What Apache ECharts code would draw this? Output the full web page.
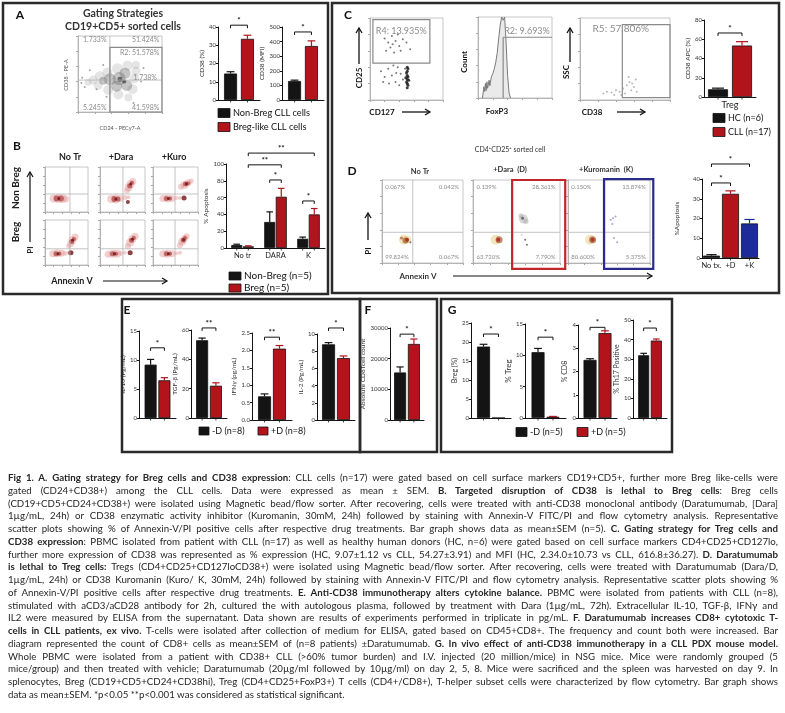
<!DOCTYPE html>
<html>
<head>
<meta charset="utf-8">
<script src="https://cdn.jsdelivr.net/npm/echarts@6/dist/echarts.min.js"></script>
<style>
  html, body { margin: 0; padding: 0; background: #fff; }
  #main { position: absolute; left: 0; top: 0; width: 785px; height: 713px; }
  #caption { position: absolute; left: 8px; top: 471px; width: 770px; font-family: Lato, "Open Sans", sans-serif;
             font-size: 9.7px; line-height: 12.76px; color: #262626; }
  #caption div { white-space: nowrap; }
</style>
</head>
<body>
<div id="main"></div>
<div id="caption"></div>
<script>
// ---- bar chart values (mean, SEM) ----
// A: CD38 on non-Breg vs Breg-like CLL cells
const cd38Pct = [14.5, 33.5], cd38PctErr = [1.0, 2.0];
const cd38Mfi = [130, 370], cd38MfiErr = [6, 35];
// B: % apoptosis
const apoCatsB = ['No tr', 'DARA', 'K'];
const apoNonBreg = [3.5, 31, 11], apoNonBregErr = [1, 12, 2];
const apoBreg = [2, 61, 40], apoBregErr = [0.6, 10, 7];
// C: CD38 APC (%) on Treg
const tregCd38 = [8, 53.5], tregCd38Err = [1.2, 4];
// D: % apoptosis of Treg
const apoCatsD = ['No tx.', '+D', '+K'];
const apoTreg = [1.2, 32.5, 17.5], apoTregErr = [0.5, 1.5, 2];
// E: cytokines (-D, +D)
const il10 = [9.2, 6.5], il10Err = [0.9, 0.45];
const tgfb = [53, 22], tgfbErr = [1.5, 2];
const ifng = [0.68, 2.05], ifngErr = [0.07, 0.09];
const il2 = [8.8, 7.2], il2Err = [0.2, 0.25];
// F: absolute CD8 T cell count
const cd8Count = [15500, 24800], cd8CountErr = [1800, 1600];
// G: PDX mouse model
const bregPct = [18.8, 0], bregPctErr = [0.6, 0];
const tregPct = [10.5, 0.2], tregPctErr = [0.6, 0.05];
const cd8Pct = [2.5, 3.65], cd8PctErr = [0.05, 0.1];
const th17Pct = [32, 39.5], th17PctErr = [1, 0.8];

// ---- flow plots, points as [x%, y%, size, shade] ----
const flowAContour = [
  [12,39,7,0],[18,42,9,0],[26,47,10,0],[35,52,10,0],[47,57,11,0],[59,61,10,0],[69,62,8,0],
  [24,35,9,0],[36,29,10,0],[48,23,10,0],[60,19,8,0],[65,30,10,0],[67,44,10,0],[69,54,9,0],
  [38,43,12,1],[49,44,13,1],[56,51,11,1],[58,35,11,1],[46,34,11,1],[30,41,8,1],
  [50,43,5,2],[55,40,4,2],
  [5,45,2,3],[8,33,2,3],[14,55,2,3],[22,30,2,3],[30,62,2,3],[75,40,2,3],[78,58,2,3],[66,12,2,3],[34,20,2,3],[4,38,2,3]
];
const flowB = [
  // row 1: Non Breg
  [[20,30,8,0],[30,30,9,0],[40,30,9,0],[48,29,7,0],[27,30,6,1],[37,30,6,1],[32,30,3,2]],
  [[25,29,8,0],[35,29,9,0],[45,30,7,0],[55,32,5,0],[63,33,4,0],[32,29,6,1],[40,29,5,1],[35,29,3,2],
   [60,48,6,0],[64,55,8,0],[68,62,8,0],[73,68,7,0],[66,58,5,1],[71,65,4,1],[68,62,3,2],[62,22,4,2]],
  [[22,30,7,0],[32,30,8,0],[42,30,7,0],[30,30,5,1],[38,30,4,1],[34,30,3,2],[52,31,4,0],[60,31,4,0],
   [62,56,6,0],[70,60,8,0],[78,65,7,0],[85,69,5,0],[72,62,5,1],[78,64,4,1],[74,62,3,2],[69,31,5,2]],
  // row 2: Breg
  [[18,25,7,0],[28,26,8,0],[38,26,7,0],[46,26,5,0],[26,25,5,1],[34,25,4,1],[30,25,3,2],[55,27,4,0],[63,27,4,0],
   [55,42,5,0],[60,48,7,0],[64,55,8,0],[70,62,7,0],[62,52,5,1],[67,58,4,1],[64,55,3,2],[60,27,5,2]],
  [[18,24,7,0],[28,25,8,0],[38,25,8,0],[46,26,5,0],[28,25,5,1],[36,25,4,1],[32,25,3,2],[55,27,4,0],
   [62,42,6,0],[67,50,8,0],[72,58,8,0],[78,64,7,0],[70,55,5,1],[75,60,4,1],[72,57,3,2],[67,27,5,2]],
  [[22,25,7,0],[32,25,8,0],[42,25,7,0],[30,25,5,1],[38,25,4,1],[34,25,3,2],[52,26,4,0],[60,27,4,0],
   [60,44,6,0],[65,52,8,0],[70,59,7,0],[75,64,6,0],[67,55,5,1],[71,60,4,1],[68,56,3,2]]
];
const flowBGateX = [58, 51, 49];
const flowBGateY = [40, 36];
const flowCD25Dots = [
  [20,75],[25,70],[30,78],[35,72],[40,66],[45,74],[28,64],[38,80],[50,70],[22,60],[33,58],[42,60],[55,62],[31,68],
  [15,35],[20,28],[25,38],[30,30],[35,22],[38,40],[42,32],[45,25],[48,38],[26,20],[32,42],[18,22],[40,18],[36,33],
  [51,15],[51,20],[51,25],[51,30],[51,35],[51,40],[52,18],[52,28],[50,22],[50,33],[52,38],[53,24],[49,27]
];
const foxp3Hist = [[6,0],[8,14],[9,8],[10,18],[11,9],[12,20],[13,12],[15,22],[16,15],[18,26],[20,30],[22,36],
  [24,44],[26,56],[28,74],[30,90],[32,100],[34,96],[36,100],[38,68],[40,28],[42,6],[44,0]];
const flowSscDots = [[26,8],[30,10],[35,9],[40,12],[44,10],[48,14],[50,8],[52,18],[55,22],[57,12],[60,16],
  [62,25],[54,28],[58,20],[46,6],[38,6],[63,10]];
const flowD = [
  [[27,28,10,0],[31,28,8,0],[29,27,6,1],[31,28,4,2],[24,30,3,1],[35,25,2,4]],
  [[26,28,10,0],[30,28,7,1],[29,28,4,2],[58,53,9,3],[55,57,5,3],[61,50,5,3],[57,54,3,4],[60,28,2,4],[62,22,2,4],[56,34,2,3]],
  [[27,28,10,0],[30,28,7,1],[30,28,4,2],[55,54,2,5],[58,56,2,5],[52,52,2,5],[56,30,2,5],[60,25,2,5],[54,47,2,5]]
];
const flowDPct = [
  ['0.067%', '0.042%', '99.824%', '0.067%'],
  ['0.139%', '28.361%', '63.720%', '7.790%'],
  ['0.150%', '13.874%', '80.600%', '5.375%']
];

const captionLines = [
  '<b>Fig 1. A. Gating strategy for Breg cells and CD38 expression</b>: CLL cells (n=17) were gated based on cell surface markers CD19+CD5+, further more Breg like-cells were',
  'gated (CD24+CD38+) among the CLL cells. Data were expressed as mean ± SEM. <b>B. Targeted disruption of CD38 is lethal to Breg cells</b>: Breg cells',
  '(CD19+CD5+CD24+CD38+) were isolated using Magnetic bead/flow sorter. After recovering, cells were treated with anti-CD38 monoclonal antibody (Daratumumab, [Dara]',
  '1µg/mL, 24h) or CD38 enzymatic activity inhibitor (Kuromanin, 30mM, 24h) followed by staining with Annexin-V FITC/PI and flow cytometry analysis. Representative',
  'scatter plots showing % of Annexin-V/PI positive cells after respective drug treatments. Bar graph shows data as mean±SEM (n=5). <b>C. Gating strategy for Treg cells and</b>',
  '<b>CD38 expression</b>: PBMC isolated from patient with CLL (n=17) as well as healthy human donors (HC, n=6) were gated based on cell surface markers CD4+CD25+CD127lo,',
  'further more expression of CD38 was represented as % expression (HC, 9.07±1.12 vs CLL, 54.27±3.91) and MFI (HC, 2.34.0±10.73 vs CLL, 616.8±36.27). <b>D. Daratumumab</b>',
  '<b>is lethal to Treg cells:</b> Tregs (CD4+CD25+CD127loCD38+) were isolated using Magnetic bead/flow sorter. After recovering, cells were treated with Daratumumab (Dara/D,',
  '1µg/mL, 24h) or CD38 Kuromanin (Kuro/ K, 30mM, 24h) followed by staining with Annexin-V FITC/PI and flow cytometry analysis. Representative scatter plots showing %',
  'of Annexin-V/PI positive cells after respective drug treatments. <b>E. Anti-CD38 immunotherapy alters cytokine balance.</b> PBMC were isolated from patients with CLL (n=8),',
  'stimulated with aCD3/aCD28 antibody for 2h, cultured the with autologous plasma, followed by treatment with Dara (1µg/mL, 72h). Extracellular IL-10, TGF-β, IFNγ and',
  'IL2 were measured by ELISA from the supernatant. Data shown are results of experiments performed in triplicate in pg/mL. <b>F. Daratumumab increases CD8+ cytotoxic T-</b>',
  '<b>cells in CLL patients, ex vivo.</b> T-cells were isolated after collection of medium for ELISA, gated based on CD45+CD8+. The frequency and count both were increased. Bar',
  'diagram represented the count of CD8+ cells as mean±SEM of (n=8 patients) ±Daratumumab. <b>G. In vivo effect of anti-CD38 immunotherapy in a CLL PDX mouse model.</b>',
  'Whole PBMC were isolated from a patient with CD38+ CLL (&gt;60% tumor burden) and I.V. injected (20 million/mice) in NSG mice. Mice were randomly grouped (5',
  'mice/group) and then treated with vehicle; Daratumumab (20µg/ml followed by 10µg/ml) on day 2, 5, 8. Mice were sacrificed and the spleen was harvested on day 9. In',
  'splenocytes, Breg (CD19+CD5+CD24+CD38hi), Treg (CD4+CD25+FoxP3+) T cells (CD4+/CD8+), T-helper subset cells were characterized by flow cytometry. Bar graph shows',
  'data as mean±SEM. *p&lt;0.05 **p&lt;0.001 was considered as statistical significant.'
];

const FONT = 'Lato, "Open Sans", sans-serif';
const BLACK = '#141414', RED = '#b3141c', BLUE = '#1c2a9a';

const grids = [], xAxes = [], yAxes = [], series = [], graphic = [];

function addGrid(rect, boxed) {
  grids.push({ left: rect[0], top: rect[1], width: rect[2], height: rect[3],
    show: boxed, borderColor: '#b8b8b8', borderWidth: 0.8 });
  return grids.length - 1;
}

// centre of bar k inside category cat
function barX(api, cat, k, n, bw, gap) {
  const c = api.coord([cat, 0])[0];
  const total = n * bw + (n - 1) * gap * bw;
  return c - total / 2 + k * bw * (1 + gap) + bw / 2;
}

function barChart(o) {
  const gi = addGrid(o.rect, false);
  const ai = xAxes.length;
  xAxes.push({ gridIndex: gi, type: 'category', data: o.cats,
    axisLine: { lineStyle: { color: BLACK, width: 1 } }, axisTick: { show: false },
    axisLabel: { show: !!o.showCats, interval: 0, fontSize: o.catSize || 7.5, color: '#222', margin: 4, fontFamily: FONT } });
  yAxes.push({ gridIndex: gi, type: 'value', min: 0, max: o.max, interval: o.interval,
    name: o.yName, nameLocation: 'middle', nameGap: o.nameGap,
    nameTextStyle: { fontSize: o.nameSize || 6.5, color: '#333', fontFamily: FONT },
    axisLine: { show: true, lineStyle: { color: BLACK, width: 1 } },
    axisTick: { show: true, length: 2, lineStyle: { color: BLACK } },
    axisLabel: { fontSize: 6, color: '#333', margin: 2, fontFamily: FONT, formatter: o.fmt || (v => String(v)) },
    splitLine: { show: false } });
  const n = o.series.length, bw = o.barWidth, gap = o.gap;
  const errData = [], errColor = [];
  o.series.forEach((s, k) => {
    series.push({ type: 'bar', xAxisIndex: ai, yAxisIndex: ai, silent: true, barWidth: bw, barGap: (gap * 100) + '%',
      itemStyle: { borderColor: '#111', borderWidth: 0.8 },
      data: s.data.map((v, i) => ({ value: v, itemStyle: { color: s.colors ? s.colors[i] : s.color } })) });
    s.data.forEach((v, i) => { errData.push([i, v, s.err[i], k]); errColor.push(s.colors ? s.colors[i] : s.color); });
  });
  series.push({ type: 'custom', xAxisIndex: ai, yAxisIndex: ai, silent: true, z: 3, data: errData, encode: { x: 0, y: 1 },
    renderItem: (params, api) => {
      const cat = api.value(0), v = api.value(1), e = api.value(2), k = api.value(3);
      const x = barX(api, cat, k, n, bw, gap);
      const y0 = api.coord([cat, 0])[1], yv = api.coord([cat, v])[1], yt = api.coord([cat, v + e])[1];
      const col = errColor[params.dataIndex], cap = bw * 0.3;
      const kids = [{ type: 'line', shape: { x1: x, y1: y0, x2: x, y2: y0 + 2.5 }, style: { stroke: BLACK, lineWidth: 0.8 } }];
      if (e > 0) {
        kids.push({ type: 'line', shape: { x1: x, y1: yv, x2: x, y2: yt }, style: { stroke: col, lineWidth: 1.2 } });
        kids.push({ type: 'line', shape: { x1: x - cap, y1: yt, x2: x + cap, y2: yt }, style: { stroke: col, lineWidth: 1.2 } });
      }
      return { type: 'group', children: kids };
    } });
  if (o.brackets) {
    series.push({ type: 'custom', xAxisIndex: ai, yAxisIndex: ai, silent: true, z: 3,
      data: o.brackets.map(b => [b[0], b[4], b[1], b[2], b[3]]), encode: { x: 0, y: 1 },
      renderItem: (params, api) => {
        const xa = barX(api, api.value(0), api.value(2), n, bw, gap);
        const xb = barX(api, api.value(3), api.value(4), n, bw, gap);
        const y = api.coord([api.value(0), api.value(1)])[1];
        return { type: 'group', children: [
          { type: 'polyline', shape: { points: [[xa, y + 3], [xa, y], [xb, y], [xb, y + 3]] }, style: { stroke: BLACK, lineWidth: 1, fill: 'none' } },
          { type: 'text', x: (xa + xb) / 2, y: y - 0.5, style: { text: o.brackets[params.dataIndex][5], fill: BLACK,
            font: 'bold 8px ' + FONT, textAlign: 'center', textVerticalAlign: 'bottom' } }
        ] };
      } });
  }
}

const gateStyles = [
  { stroke: '#b4b4b4', lineWidth: 0.8 },
  { stroke: '#8a8a8a', lineWidth: 1.2 },
  { stroke: '#c0262a', lineWidth: 2.2 },
  { stroke: '#2b2b8c', lineWidth: 2.2 }
];

function flowPlot(p) {
  const gi = addGrid(p.rect, true);
  const ai = xAxes.length;
  const ax = () => ({ gridIndex: gi, type: 'value', min: 0, max: 100, interval: 20,
    axisLine: { show: true, lineStyle: { color: '#a8a8a8', width: 0.8 } },
    axisTick: { show: true, length: 2, lineStyle: { color: '#a8a8a8' } },
    axisLabel: { show: false }, splitLine: { show: false } });
  xAxes.push(ax()); yAxes.push(ax());
  if (p.hist) series.push({ type: 'line', xAxisIndex: ai, yAxisIndex: ai, silent: true, data: p.hist, symbol: 'none',
    lineStyle: { color: '#7a7a7a', width: 1 }, areaStyle: { color: 'rgba(170,170,170,0.35)' } });
  if (p.dots) series.push({ type: 'scatter', xAxisIndex: ai, yAxisIndex: ai, silent: true, symbolSize: v => v[2],
    data: p.dots.map(d => ({ value: [d[0], d[1], d[2]], itemStyle: { color: p.palette[d[3]] } })) });
  if (p.gates) series.push({ type: 'custom', xAxisIndex: ai, yAxisIndex: ai, silent: true, z: 4, data: p.gates,
    encode: { x: [0, 2], y: [1, 3] },
    renderItem: (params, api) => {
      const a = api.coord([api.value(0), api.value(1)]), b = api.coord([api.value(2), api.value(3)]);
      const st = Object.assign({ fill: 'none' }, gateStyles[api.value(4)]);
      if (api.value(5) === 1) {
        return { type: 'rect', shape: { x: Math.min(a[0], b[0]), y: Math.min(a[1], b[1]),
          width: Math.abs(b[0] - a[0]), height: Math.abs(b[1] - a[1]) }, style: st };
      }
      return { type: 'line', shape: { x1: a[0], y1: a[1], x2: b[0], y2: b[1] }, style: st };
    } });
  if (p.labels) series.push({ type: 'custom', xAxisIndex: ai, yAxisIndex: ai, silent: true, z: 5,
    data: p.labels.map(l => [l[0], l[1]]), encode: { x: 0, y: 1 },
    renderItem: (params, api) => {
      const l = p.labels[params.dataIndex], c = api.coord([api.value(0), api.value(1)]);
      return { type: 'text', x: c[0], y: c[1], style: { text: l[2], fill: '#8c8c8c', font: (l[4] || 6) + 'px ' + FONT,
        textAlign: l[3], textVerticalAlign: 'middle' } };
    } });
}

function txt(x, y, s, size, opt) {
  opt = opt || {};
  graphic.push({ type: 'text', x: x, y: y, rotation: opt.rot || 0, z: 10,
    style: { text: s, fill: opt.color || '#111', font: (opt.bold ? 'bold ' : '') + size + 'px ' + FONT,
      textAlign: opt.align || 'center', textVerticalAlign: 'middle' } });
}
function arrow(x1, y1, x2, y2, w) {
  const a = Math.atan2(y2 - y1, x2 - x1), h = 5;
  graphic.push({ type: 'line', z: 10, shape: { x1: x1, y1: y1, x2: x2, y2: y2 }, style: { stroke: '#111', lineWidth: w || 1.3 } });
  graphic.push({ type: 'polyline', z: 10, shape: { points: [
    [x2 - Math.cos(a) * h + Math.sin(a) * h * 0.6, y2 - Math.sin(a) * h - Math.cos(a) * h * 0.6], [x2, y2],
    [x2 - Math.cos(a) * h - Math.sin(a) * h * 0.6, y2 - Math.sin(a) * h + Math.cos(a) * h * 0.6]] },
    style: { stroke: '#111', lineWidth: w || 1.3, fill: 'none' } });
}
function legendItem(x, y, w, h, color, label, size) {
  graphic.push({ type: 'rect', z: 10, shape: { x: x, y: y - h / 2, width: w, height: h }, style: { fill: color, stroke: '#111', lineWidth: 0.8 } });
  txt(x + w + 3, y, label, size, { align: 'left' });
}

// panel frames
[[3, 3, 325, 291], [332, 3, 447, 290], [122, 299, 238, 153], [360, 299, 77, 153], [441, 299, 231, 153]].forEach(r =>
  graphic.push({ type: 'rect', z: 1, shape: { x: r[0], y: r[1], width: r[2], height: r[3] },
    style: { fill: 'none', stroke: '#2a2a2a', lineWidth: 2.5 } }));

// ---------- Panel A ----------
txt(20, 15, 'A', 12, { bold: true });
txt(123, 14, 'Gating Strategies', 10.5, { bold: true, color: '#333' });
txt(123, 27, 'CD19+CD5+ sorted cells', 10.5, { bold: true, color: '#333' });
flowPlot({ rect: [78, 36, 84, 76], dots: flowAContour,
  palette: ['rgba(160,160,160,0.35)', 'rgba(95,95,95,0.45)', '#4a4a4a', '#8c8c8c'],
  gates: [[38, 0, 38, 100, 0, 0], [0, 42, 100, 42, 0, 0], [38, 0, 100, 85, 1, 1]],
  labels: [[6, 95, '1.733%', 'left', 7], [97, 95, '51.424%', 'right', 7], [97, 78, 'R2: 51.578%', 'right', 7],
           [80, 45, '1.738%', 'center', 7], [6, 5, '5.245%', 'left', 7], [97, 5, '41.598%', 'right', 7]] });
txt(66, 75, 'CD38 - PE-A', 5.5, { rot: Math.PI / 2, color: '#555' });
txt(120, 128, 'CD24 - PECy7-A', 5.5, { color: '#555' });
barChart({ rect: [218, 27, 42, 73], cats: [''], max: 40, interval: 10, yName: 'CD38 (%)', nameGap: 12,
  barWidth: 13, gap: 0.3,
  series: [{ data: [cd38Pct[0]], err: [cd38PctErr[0]], color: BLACK }, { data: [cd38Pct[1]], err: [cd38PctErr[1]], color: RED }],
  brackets: [[0, 0, 0, 1, 41, '*']] });
barChart({ rect: [282, 27, 42, 73], cats: [''], max: 500, interval: 100, yName: 'CD38 (MFI)', nameGap: 12,
  barWidth: 13, gap: 0.3,
  series: [{ data: [cd38Mfi[0]], err: [cd38MfiErr[0]], color: BLACK }, { data: [cd38Mfi[1]], err: [cd38MfiErr[1]], color: RED }],
  brackets: [[0, 0, 0, 1, 466, '*']] });
legendItem(218, 113, 12, 9, BLACK, 'Non-Breg CLL cells', 9.2);
legendItem(218, 127, 12, 9, RED, 'Breg-like CLL cells', 9.2);

// ---------- Panel B ----------
txt(17, 146, 'B', 12, { bold: true });
txt(70, 157, 'No Tr', 9, { bold: true, color: '#222' });
txt(121, 157, '+Dara', 9, { bold: true, color: '#222' });
txt(174, 157, '+Kuro', 9, { bold: true, color: '#222' });
txt(16, 188, 'Non Breg', 10, { bold: true, rot: Math.PI / 2, color: '#222' });
txt(16, 232, 'Breg', 10, { bold: true, rot: Math.PI / 2, color: '#222' });
txt(30, 250, 'PI', 8, { bold: true, rot: Math.PI / 2, color: '#222' });
arrow(30, 242, 30, 172, 1.2);
txt(72, 281, 'Annexin V', 9, { bold: true, color: '#222' });
arrow(103, 281, 167, 281, 1.2);
const flowBRects = [[45, 167, 43, 45], [100, 167, 45, 45], [153, 167, 45, 45], [45, 220, 43, 45], [100, 220, 45, 45], [153, 220, 45, 45]];
flowBRects.forEach((r, i) => {
  const gx = flowBGateX[i % 3], gy = flowBGateY[Math.floor(i / 3)];
  flowPlot({ rect: r, dots: flowB[i], palette: ['rgba(222,145,145,0.55)', 'rgba(165,45,45,0.75)', '#6e1414'],
    gates: [[gx, 0, gx, 100, 0, 0], [0, gy, 100, gy, 0, 0]] });
});
barChart({ rect: [226, 164, 99, 84], cats: apoCatsB, showCats: true, max: 100, interval: 20, yName: '% Apoptosis', nameGap: 12,
  barWidth: 11, gap: 0.05,
  series: [{ data: apoNonBreg, err: apoNonBregErr, color: BLACK }, { data: apoBreg, err: apoBregErr, color: RED }],
  brackets: [[1, 0, 1, 1, 81, '*'], [2, 0, 2, 1, 56, '*'], [0, 1, 1, 1, 99, '**'], [0, 1, 2, 1, 113, '**']] });
legendItem(229, 276, 12, 8, BLACK, 'Non-Breg (n=5)', 10);
legendItem(229, 288, 12, 8, RED, 'Breg (n=5)', 10);

// ---------- Panel C ----------
txt(348, 15, 'C', 12, { bold: true });
flowPlot({ rect: [370, 18, 73, 82],
  dots: flowCD25Dots.map((d, i) => [d[0], d[1], i >= 28 ? 3 : 2, i >= 28 ? 1 : 0]), palette: ['#555', '#111'],
  gates: [[4, 45, 82, 98, 1, 1]], labels: [[8, 84, 'R4: 13.935%', 'left', 9]] });
txt(359, 78, 'CD25', 8, { bold: true, rot: Math.PI / 2 });
arrow(359, 64, 359, 28, 1.3);
txt(382, 112, 'CD127', 8, { bold: true });
arrow(402, 112, 430, 112, 1.3);
flowPlot({ rect: [478, 17, 74, 81], hist: foxp3Hist,
  gates: [[34, 0, 34, 75, 1, 0], [34, 75, 100, 75, 1, 0]], labels: [[97, 82, 'R2: 9.693%', 'right', 9]] });
txt(464, 62, 'Count', 8, { bold: true, rot: Math.PI / 2 });
txt(497, 111, 'FoxP3', 8, { bold: true });
flowPlot({ rect: [580, 18, 90, 82], dots: flowSscDots.map(d => [d[0], d[1], 2, 0]), palette: ['#a8a8a8'],
  gates: [[47, 3, 100, 92, 1, 1]], labels: [[14, 87, 'R5: 57.806%', 'left', 10]] });
txt(566, 72, 'SSC', 8, { bold: true, rot: Math.PI / 2 });
arrow(570, 62, 570, 28, 1.3);
txt(592, 112, 'CD38', 8, { bold: true });
arrow(617, 112, 645, 112, 1.3);
barChart({ rect: [704, 20, 52, 77], cats: ['Treg'], showCats: true, catSize: 9, max: 80, interval: 20, yName: 'CD38 APC (%)', nameGap: 9,
  barWidth: 20, gap: 0.2,
  series: [{ data: [tregCd38[0]], err: [tregCd38Err[0]], color: BLACK }, { data: [tregCd38[1]], err: [tregCd38Err[1]], color: RED }],
  brackets: [[0, 0, 0, 1, 66.5, '*']] });
legendItem(713, 118, 12, 9, BLACK, 'HC (n=6)', 9);
legendItem(713, 132, 12, 9, RED, 'CLL (n=17)', 9);

// ---------- Panel D ----------
txt(510, 150, 'CD4⁺CD25⁺ sorted cell', 7, { color: '#333' });
txt(352, 171, 'D', 12, { bold: true });
txt(420, 172, 'No Tr', 7.5, { bold: true, color: '#333' });
txt(510, 170, '+Dara  (D)', 7.5, { bold: true, color: '#333' });
txt(606, 170, '+Kuromanin  (K)', 7.5, { bold: true, color: '#333' });
const flowDRects = [[382, 180, 81, 83], [473, 180, 87, 83], [568, 180, 82, 83]];
const flowDGateX = [38, 45, 43];
const flowDBoxes = [null, [45, -7, 106, 100, 2, 1], [44, -7, 104, 101, 3, 1]];
flowDRects.forEach((r, i) => {
  const gates = [[flowDGateX[i], 0, flowDGateX[i], 100, 0, 0], [0, 37, 100, 37, 0, 0]];
  if (flowDBoxes[i]) gates.push(flowDBoxes[i]);
  const pc = flowDPct[i];
  flowPlot({ rect: r, dots: flowD[i],
    palette: ['rgba(225,195,100,0.55)', 'rgba(150,80,40,0.8)', '#b41e1e', 'rgba(140,140,140,0.45)', '#555', '#8c8cc8'],
    gates: gates,
    labels: [[4, 91, pc[0], 'left'], [95, 91, pc[1], 'right'], [4, 7, pc[2], 'left'], [95, 7, pc[3], 'right']] });
});
txt(368, 251, 'PI', 8, { bold: true, rot: Math.PI / 2 });
arrow(368, 240, 368, 213, 1.3);
txt(418, 276, 'Annexin V', 8, { bold: true, color: '#333' });
arrow(453, 276, 652, 276, 1.2);
barChart({ rect: [702, 179, 57, 79], cats: apoCatsD, showCats: true, max: 40, interval: 10, yName: '%Apoptosis', nameGap: 22,
  barWidth: 17, gap: 0,
  series: [{ data: apoTreg, err: apoTregErr, colors: [BLACK, RED, BLUE] }],
  brackets: [[0, 0, 1, 0, 38, '*'], [0, 0, 2, 0, 47.6, '*']] });

// ---------- Panel E ----------
txt(127, 310, 'E', 12, { bold: true });
const pair = (v, e) => [{ data: [v[0]], err: [e[0]], color: BLACK }, { data: [v[1]], err: [e[1]], color: RED }];
barChart({ rect: [139, 331, 37, 87], cats: [''], max: 15, interval: 5, yName: 'IL-10 (Pg/mL)', nameGap: 8,
  barWidth: 12, gap: 0.15, series: pair(il10, il10Err), brackets: [[0, 0, 0, 1, 12.1, '*']] });
barChart({ rect: [191, 330, 36, 88], cats: [''], max: 60, interval: 20, yName: 'TGF-β (Pg/mL)', nameGap: 9,
  barWidth: 12, gap: 0.15, series: pair(tgfb, tgfbErr), brackets: [[0, 0, 0, 1, 61.4, '**']] });
barChart({ rect: [252, 333, 40, 87], cats: [''], max: 2.5, interval: 0.5, yName: 'IFNγ (pg/mL)', nameGap: 12,
  barWidth: 13, gap: 0.15, fmt: v => v.toFixed(1), series: pair(ifng, ifngErr), brackets: [[0, 0, 0, 1, 2.38, '**']] });
barChart({ rect: [317, 334, 38, 86], cats: [''], max: 10, interval: 2, yName: 'IL-2 (Pg/mL)', nameGap: 9,
  barWidth: 13, gap: 0.15, series: pair(il2, il2Err), brackets: [[0, 0, 0, 1, 10.7, '*']] });
legendItem(199, 431, 10, 8, BLACK, '-D (n=8)', 9);
legendItem(258, 431, 10, 8, RED, '+D (n=8)', 9);

// ---------- Panel F ----------
txt(368, 310, 'F', 12, { bold: true });
barChart({ rect: [390, 328, 34, 92], cats: [''], max: 30000, interval: 10000, yName: 'Absolute CD8Tcell count', nameGap: 20,
  barWidth: 12, gap: 0.15, series: pair(cd8Count, cd8CountErr), brackets: [[0, 0, 0, 1, 28000, '*']] });

// ---------- Panel G ----------
txt(452, 310, 'G', 12, { bold: true });
barChart({ rect: [471, 323, 40, 95], cats: [''], max: 25, interval: 5, yName: 'Breg (%)', nameGap: 9, nameSize: 7,
  barWidth: 13, gap: 0.15, series: pair(bregPct, bregPctErr), brackets: [[0, 0, 0, 1, 22.1, '*']] });
barChart({ rect: [525, 324, 41, 94], cats: [''], max: 15, interval: 5, yName: '% Treg', nameGap: 9, nameSize: 8,
  barWidth: 13, gap: 0.15, series: pair(tregPct, tregPctErr), brackets: [[0, 0, 0, 1, 12.9, '*']] });
barChart({ rect: [578, 325, 39, 93], cats: [''], max: 4, interval: 1, yName: '% CD8', nameGap: 8, nameSize: 7,
  barWidth: 13, gap: 0.15, series: pair(cd8Pct, cd8PctErr), brackets: [[0, 0, 0, 1, 3.9, '*']] });
barChart({ rect: [633, 320, 34, 98], cats: [''], max: 50, interval: 10, yName: '% Th17 Positive', nameGap: 9, nameSize: 7,
  barWidth: 11, gap: 0.15, series: pair(th17Pct, th17PctErr), brackets: [[0, 0, 0, 1, 45.9, '*']] });
legendItem(516, 432, 11, 9, BLACK, '-D (n=5)', 9);
legendItem(577, 432, 11, 9, RED, '+D (n=5)', 9);

const chart = echarts.init(document.getElementById('main'));
chart.setOption({
  backgroundColor: '#fff',
  animation: false,
  textStyle: { fontFamily: FONT },
  grid: grids,
  xAxis: xAxes,
  yAxis: yAxes,
  series: series,
  graphic: graphic
});

// caption, each line justified to the full width
const cap = document.getElementById('caption');
captionLines.forEach((line, i) => {
  const row = document.createElement('div');
  const span = document.createElement('span');
  span.innerHTML = line;
  row.appendChild(span);
  cap.appendChild(row);
  if (i < captionLines.length - 1) {
    const spaces = (span.textContent.match(/ /g) || []).length;
    const w = span.getBoundingClientRect().width;
    if (spaces) span.style.wordSpacing = ((770 - w) / spaces) + 'px';
  }
});
</script>
</body>
</html>
